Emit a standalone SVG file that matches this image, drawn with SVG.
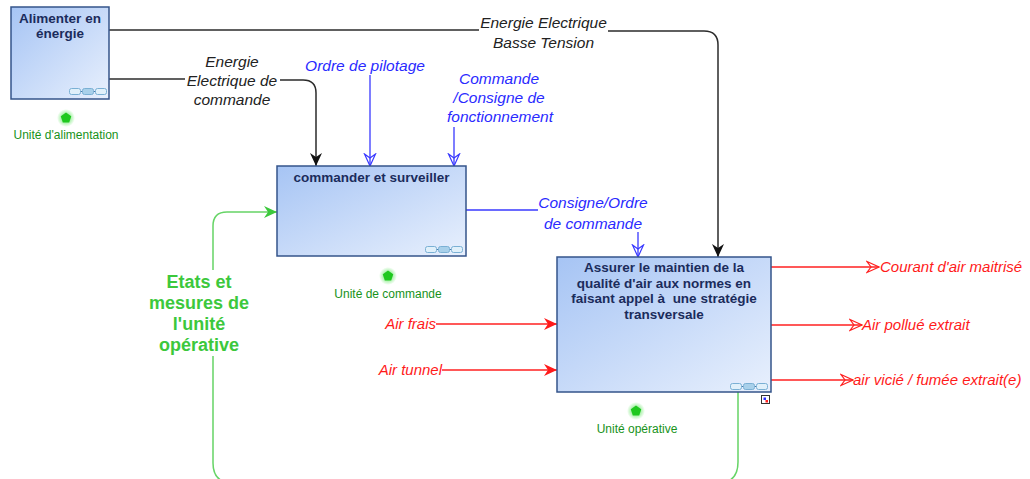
<svg xmlns="http://www.w3.org/2000/svg" width="1030" height="479" viewBox="0 0 1030 479">
<style>
.title{font-family:"Liberation Sans",Arial,sans-serif;font-weight:bold;font-size:13.5px;fill:#1b2c5c;text-anchor:middle}
.unit{font-family:"Liberation Sans",Arial,sans-serif;font-size:12px;fill:#17921a;text-anchor:middle}
.lbl{font-family:"Liberation Sans",Arial,sans-serif;font-style:italic;font-size:15.5px}
.mid{text-anchor:middle}
.end{text-anchor:end}
.blk{fill:#222}
.blu{fill:#2a2aff}
.red{fill:#ff1a1a;font-size:15px}
.grn{font-family:"Liberation Sans",Arial,sans-serif;font-weight:bold;font-size:18px;fill:#3cc83c;text-anchor:middle}
.box{fill:url(#g);stroke:#34548a;stroke-width:1.5}
.cb{fill:none;stroke:#2b2b2b;stroke-width:1.5}
.cu{fill:none;stroke:#3838ff;stroke-width:1.3}
.cr{fill:none;stroke:#ff2020;stroke-width:1.5}
.cg{fill:none;stroke:#66d466;stroke-width:1.5}
</style>
<defs>
<linearGradient id="g" x1="0" y1="0" x2="1" y2="1">
<stop offset="0" stop-color="#a6c4f4"/>
<stop offset="1" stop-color="#e8f0fd"/>
</linearGradient>
<radialGradient id="glow">
<stop offset="0" stop-color="#3ee03e" stop-opacity="0.9"/>
<stop offset="1" stop-color="#3ee03e" stop-opacity="0"/>
</radialGradient>
<g id="chain">
<line x1="11" y1="3.5" x2="14" y2="3.5" stroke="#4a7ca8"/>
<line x1="24" y1="3.5" x2="27" y2="3.5" stroke="#4a7ca8"/>
<rect x="0.5" y="0.5" width="11" height="6" rx="2" fill="#e0f0fa" stroke="#7ab0d4"/>
<rect x="13.5" y="0.5" width="11" height="6" rx="2" fill="#a8d0ea" stroke="#7ab0d4"/>
<rect x="26.5" y="0.5" width="11" height="6" rx="2" fill="#e0f0fa" stroke="#7ab0d4"/>
</g>
<g id="star">
<circle r="9" fill="url(#glow)"/>
<polygon points="0,-5.5 5.23,-1.7 3.23,4.45 -3.23,4.45 -5.23,-1.7" fill="#1ec81e"/>
</g>
<marker id="aBlk" markerUnits="userSpaceOnUse" markerWidth="14" markerHeight="14" viewBox="0 0 14 14" refX="13" refY="7" orient="auto">
<path d="M0,1 L13,7 L0,13 L4,7 Z" fill="#111"/>
</marker>
<marker id="aBlu" markerUnits="userSpaceOnUse" markerWidth="14" markerHeight="14" viewBox="0 0 14 14" refX="13" refY="7" orient="auto">
<path d="M1,1.5 L13,7 L1,12.5 L5,7 Z" fill="none" stroke="#3838ff" stroke-width="1.2"/>
</marker>
<marker id="aRed" markerUnits="userSpaceOnUse" markerWidth="14" markerHeight="14" viewBox="0 0 14 14" refX="13" refY="7" orient="auto">
<path d="M0,1 L13,7 L0,13 L4,7 Z" fill="#ff1a1a"/>
</marker>
<marker id="aRedO" markerUnits="userSpaceOnUse" markerWidth="14" markerHeight="14" viewBox="0 0 14 14" refX="13" refY="7" orient="auto">
<path d="M1,1.5 L13,7 L1,12.5 L5,7 Z" fill="none" stroke="#ff2020" stroke-width="1.2"/>
</marker>
<marker id="aGrn" markerUnits="userSpaceOnUse" markerWidth="14" markerHeight="14" viewBox="0 0 14 14" refX="13" refY="7" orient="auto">
<path d="M0,1 L13,7 L0,13 L4,7 Z" fill="#3cc83c"/>
</marker>
</defs>
<rect width="1030" height="479" fill="#fff"/>

<g id="connectors">
<path class="cb" d="M109,30 H479"/>
<path class="cb" d="M608,31 H704 Q718,31 718,45 V257" marker-end="url(#aBlk)"/>
<path class="cb" d="M109,79 H185"/>
<path class="cb" d="M280,80 H303 Q316,80 316,93 V166" marker-end="url(#aBlk)"/>
<path class="cu" d="M370,75 V166" marker-end="url(#aBlu)"/>
<path class="cu" d="M454,127 V166" marker-end="url(#aBlu)"/>
<path class="cu" d="M466,210 H538" stroke-width="2" stroke="#6a6aff"/>
<path class="cu" d="M638,232 V257" marker-end="url(#aBlu)"/>
<path class="cr" d="M436,324 H557" marker-end="url(#aRed)"/>
<path class="cr" d="M442,370 H557" marker-end="url(#aRed)"/>
<path class="cr" d="M771,267 H879" stroke="#ff6a6a" marker-end="url(#aRedO)"/>
<path class="cr" d="M771,325 H862" marker-end="url(#aRedO)"/>
<path class="cr" d="M771,380 H853" marker-end="url(#aRedO)"/>
<path class="cg" d="M738,392 V462 Q738,483 718,483 H233 Q213,483 213,463 V356"/>
<path class="cg" d="M213,270 V226 Q213,212 227,212 H277" marker-end="url(#aGrn)"/>
</g>

<g id="labels">
<text class="lbl blk mid" x="543.5" y="28">Energie Electrique</text>
<text class="lbl blk mid" x="543.5" y="48">Basse Tension</text>
<text class="lbl blk mid" x="232" y="67">Energie</text>
<text class="lbl blk mid" x="232" y="86">Electrique de</text>
<text class="lbl blk mid" x="232" y="105">commande</text>
<text class="lbl blu mid" x="365" y="71">Ordre de pilotage</text>
<text class="lbl blu mid" x="499" y="84">Commande</text>
<text class="lbl blu mid" x="499" y="103">/Consigne de</text>
<text class="lbl blu mid" x="500" y="122">fonctionnement</text>
<text class="lbl blu mid" x="593" y="208">Consigne/Ordre</text>
<text class="lbl blu mid" x="593" y="229">de commande</text>
<text class="lbl red end" x="436" y="329">Air frais</text>
<text class="lbl red end" x="442" y="375">Air tunnel</text>
<text class="lbl red" x="880" y="272">Courant d'air maitrisé</text>
<text class="lbl red" x="862" y="330">Air pollué extrait</text>
<text class="lbl red" x="853" y="385">air vicié / fumée extrait(e)</text>
<text class="grn" x="199" y="288">Etats et</text>
<text class="grn" x="199" y="309">mesures de</text>
<text class="grn" x="199" y="330">l'unité</text>
<text class="grn" x="199" y="351">opérative</text>
</g>

<g id="node-alimenter">
<rect class="box" x="11" y="7" width="98" height="92"/>
<text class="title" x="60" y="23">Alimenter en</text>
<text class="title" x="60" y="38">énergie</text>
<use href="#chain" x="69" y="88"/>
<use href="#star" x="66" y="118"/>
<text class="unit" x="66" y="139">Unité d'alimentation</text>
</g>

<g id="node-commander">
<rect class="box" x="277" y="166" width="189" height="90"/>
<text class="title" x="371.5" y="182">commander et surveiller</text>
<use href="#chain" x="425" y="246"/>
<use href="#star" x="388" y="276"/>
<text class="unit" x="388" y="298">Unité de commande</text>
</g>

<g id="node-assurer">
<rect class="box" x="557" y="257" width="214" height="135"/>
<text class="title" x="664" y="272">Assurer le maintien de la</text>
<text class="title" x="664" y="287.5">qualité d'air aux normes en</text>
<text class="title" x="664" y="303">faisant appel à&#160; une stratégie</text>
<text class="title" x="664" y="318.5">transversale</text>
<use href="#chain" x="730" y="383"/>
<rect x="761.5" y="395.5" width="8" height="8" fill="#fff" stroke="#333"/>
<rect x="763.5" y="397.5" width="2.5" height="2.5" fill="#2a2aff"/>
<rect x="765.5" y="400" width="2.5" height="2.5" fill="#ff2020"/>
<use href="#star" x="636" y="411"/>
<text class="unit" x="637" y="433">Unité opérative</text>
</g>
</svg>
